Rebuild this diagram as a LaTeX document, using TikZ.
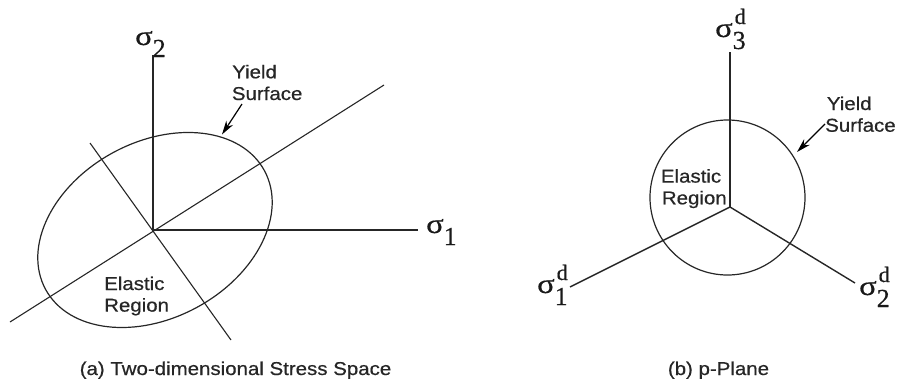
\documentclass[tikz,border=0pt]{standalone}
\usepackage{fontspec}
\usetikzlibrary{arrows.meta}
\newfontfamily\labfont[FakeStretch=1.1,FakeBold=0.6]{Liberation Sans}
\newfontfamily\sigfont[FakeBold=0.5]{Liberation Serif}
\newcommand\sgm{\scalebox{1.25}[1.05]{σ}}
\newcommand\sigsub[1]{\sgm\raisebox{-12pt}{#1}}
\newcommand\sigsubd[1]{\sgm\rlap{\hspace{2pt}\raisebox{13pt}{\fontsize{22}{22}\selectfont d}}\raisebox{-12pt}{#1}}
\tikzset{
  lab/.style={font=\labfont\fontsize{18.6}{21.7}\selectfont, inner sep=0pt, anchor=base west, text=black!85},
  captext/.style={lab, anchor=base},
  sig/.style={font=\sigfont\fontsize{26}{26}\selectfont, inner sep=0pt, anchor=base west, text=black!90},
  axis/.style={draw=black!85, line width=1.4pt},
  thin line/.style={draw=black!85, line width=1.1pt},
  curve/.style={draw=black!85, line width=1.2pt},
  pointer/.style={draw=black, line width=1.2pt, -{Stealth[length=14pt,width=8pt]}}
}
\begin{document}
\begin{tikzpicture}[x=1pt,y=-1pt]
\useasboundingbox (0,0) rectangle (898,389);
% ---------- (a) ----------
\coordinate (O) at (153,230);
\coordinate (s2top) at (153,55);
\coordinate (s1end) at (418,230);
\coordinate (dA) at (10,322);
\coordinate (dB) at (384,85);
\coordinate (pA) at (90,143);
\coordinate (pB) at (231,340);
\coordinate (EC) at (155,230);
\draw[curve, rotate around={28.5:(EC)}] (EC) ellipse [x radius=124.5pt, y radius=88pt];
\draw[thin line] (dA) -- (dB);
\draw[thin line] (pA) -- (pB);
\draw[axis] (O) -- (s2top);
\draw[axis, line width=1.8pt] (O) -- (s1end);
\node[sig] (s2) at (135,45) {\sigsub{2}};
\node[sig] (s1) at (426,233) {\sigsub{1}};
\node[lab] (ysA) at (232,78.3) {Yield};
\node[lab] (ysB) at (231.7,100) {Surface};
\coordinate (a1tail) at (242,104);
\coordinate (a1tip) at (222,134.5);
\draw[pointer] (a1tail) -- (a1tip);
\node[lab] (erA) at (104,290) {Elastic};
\node[lab] (erB) at (104,311.6) {Region};
\node[captext] (capa) at (235.5,375) {(a) Two-dimensional Stress Space};
% ---------- (b) ----------
\coordinate (O2) at (730,207);
\coordinate (s3top) at (730,52);
\coordinate (s1dend) at (570,287);
\coordinate (s2dend) at (855,283);
\coordinate (CC) at (727.5,197.5);
\draw[curve] (CC) circle [radius=77.5pt];
\draw[axis] (O2) -- (s3top);
\draw[axis] (O2) -- (s1dend);
\draw[axis] (O2) -- (s2dend);
\node[sig] (s3d) at (715,37) {\sigsubd{3}};
\node[sig] (s1d) at (537,293) {\sigsubd{1}};
\node[sig] (s2d) at (859,295) {\sigsubd{2}};
\node[lab] (ysC) at (826.7,110) {Yield};
\node[lab] (ysD) at (825,131.7) {Surface};
\coordinate (a2tail) at (825,124);
\coordinate (a2tip) at (797,152);
\draw[pointer] (a2tail) -- (a2tip);
\node[lab] (erC) at (660.7,182.6) {Elastic};
\node[lab] (erD) at (661.7,204.3) {Region};
\node[captext] (capb) at (718.5,375) {(b) p-Plane};
\end{tikzpicture}
\end{document}
